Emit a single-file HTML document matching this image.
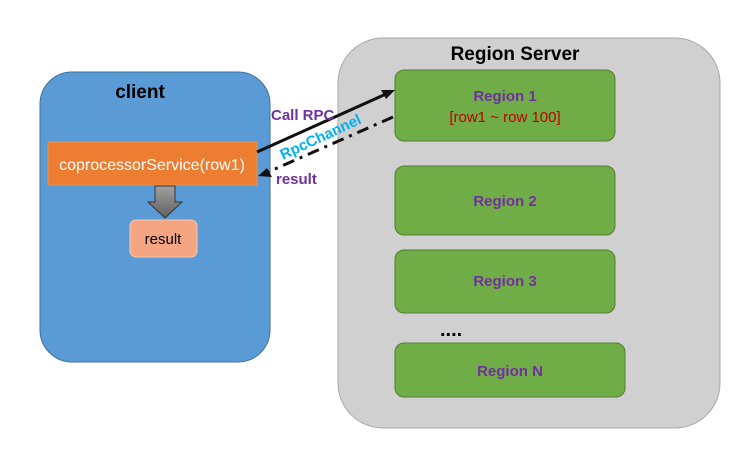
<!DOCTYPE html><html><head><style>body{margin:0;background:#fff}</style></head><body>
<svg width="740" height="450" xmlns="http://www.w3.org/2000/svg" font-family="Liberation Sans, sans-serif">
<defs><linearGradient id="g" x1="0" y1="0" x2="0" y2="1"><stop offset="0" stop-color="#a0a0a0"/><stop offset="1" stop-color="#606060"/></linearGradient></defs>
<rect x="40" y="72" width="230" height="290" rx="32" fill="#5b9bd5" stroke="#41719c"/>
<text x="140" y="98" font-size="19" font-weight="bold" text-anchor="middle" fill="#000">client</text>
<rect x="48" y="142" width="209" height="43" fill="#ed7d31" stroke="#e8914f"/>
<text x="152" y="170" font-size="16" text-anchor="middle" fill="#fff">coprocessorService(row1)</text>
<path d="M155 186h20v16h7l-17 16-17-16h7z" fill="url(#g)" stroke="#333"/>
<rect x="130" y="220" width="67" height="37" rx="6" fill="#f4a582" stroke="#f8cbad"/>
<text x="163" y="244" font-size="15" text-anchor="middle" fill="#000">result</text>
<rect x="338" y="38" width="382" height="390" rx="45" fill="#d0d0d0" stroke="#a8a8a8"/>
<text x="515" y="60" font-size="19" font-weight="bold" text-anchor="middle" fill="#000">Region Server</text>
<rect x="395" y="70" width="220" height="71" rx="9" fill="#70ad47" stroke="#507e32"/>
<text x="505" y="101" font-size="15" font-weight="bold" text-anchor="middle" fill="#7030a0">Region 1</text>
<text x="505" y="122" font-size="15" text-anchor="middle" fill="#c00000">[row1 ~ row 100]</text>
<rect x="395" y="166" width="220" height="69" rx="9" fill="#70ad47" stroke="#507e32"/>
<text x="505" y="206" font-size="15" font-weight="bold" text-anchor="middle" fill="#7030a0">Region 2</text>
<rect x="395" y="250" width="220" height="63" rx="9" fill="#70ad47" stroke="#507e32"/>
<text x="505" y="286" font-size="15" font-weight="bold" text-anchor="middle" fill="#7030a0">Region 3</text>
<text x="440" y="336" font-size="20" font-weight="bold" fill="#000">....</text>
<rect x="395" y="343" width="230" height="54" rx="9" fill="#70ad47" stroke="#507e32"/>
<text x="510" y="376" font-size="15" font-weight="bold" text-anchor="middle" fill="#7030a0">Region N</text>
<line x1="257" y1="152" x2="386" y2="94" stroke="#111" stroke-width="3"/>
<path d="M395 90l-14 0 5 9z" fill="#111"/>
<line x1="393" y1="117" x2="268" y2="172" stroke="#111" stroke-width="3" stroke-dasharray="12,6,3,6"/>
<path d="M258 176l14 1-5-9z" fill="#111"/>
<text x="271" y="120" font-size="15" font-weight="bold" fill="#7030a0">Call RPC</text>
<text x="276" y="184" font-size="15" font-weight="bold" fill="#7030a0">result</text>
<text x="283" y="160" font-size="15" font-weight="bold" fill="#00b0f0" transform="rotate(-25 283 160)">RpcChannel</text>
</svg></body></html>
